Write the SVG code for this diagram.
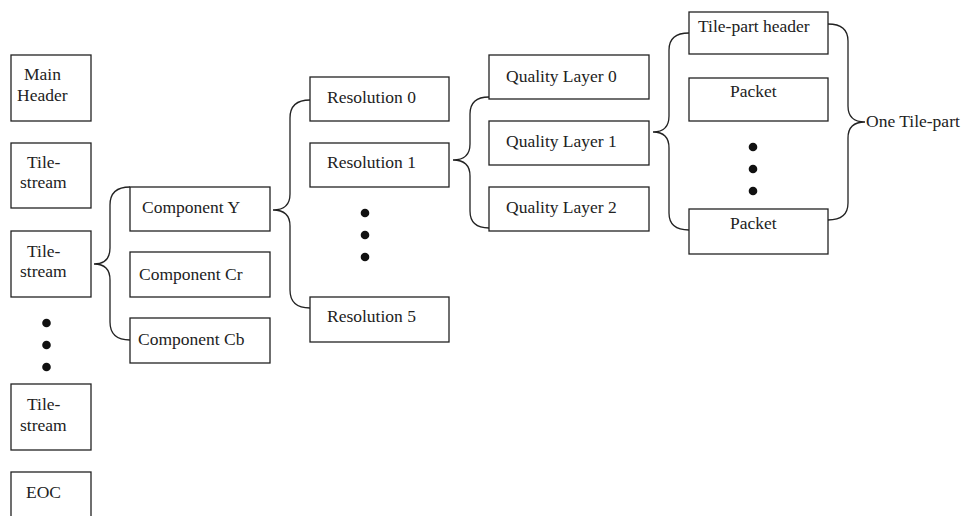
<svg xmlns="http://www.w3.org/2000/svg" width="961" height="516" viewBox="0 0 961 516">
<style>
rect{fill:#fff;stroke:#222;stroke-width:1.3}
text{font-family:"Liberation Serif","Times New Roman",serif;font-size:17.5px;fill:#222}
.br{fill:none;stroke:#222;stroke-width:1.3}
.dot{fill:#111}
</style>
<rect x="0" y="0" width="961" height="516" style="stroke:none"/>
<g id="main-header"><rect x="11" y="55" width="80" height="66"/><text x="24" y="80">Main</text><text x="17" y="101">Header</text></g>
<g id="tile-stream-1"><rect x="11" y="143" width="80" height="65"/><text x="27" y="168">Tile-</text><text x="20" y="188">stream</text></g>
<g id="tile-stream-2"><rect x="11" y="231" width="80" height="66"/><text x="27" y="257">Tile-</text><text x="20" y="277">stream</text></g>
<g id="dots-left"><circle class="dot" cx="46.5" cy="323" r="4.3"/><circle class="dot" cx="46.5" cy="345" r="4.3"/><circle class="dot" cx="46.5" cy="367" r="4.3"/></g>
<g id="tile-stream-3"><rect x="11" y="384" width="80" height="66"/><text x="27" y="410">Tile-</text><text x="20" y="431">stream</text></g>
<g id="eoc"><rect x="11" y="472" width="80" height="60"/><text x="26" y="498">EOC</text></g>

<g id="component-y"><rect x="130" y="187" width="140" height="44"/><text x="142" y="213">Component Y</text></g>
<g id="component-cr"><rect x="130" y="252" width="140" height="45"/><text x="139" y="280">Component Cr</text></g>
<g id="component-cb"><rect x="130" y="318" width="140" height="45"/><text x="138" y="345">Component Cb</text></g>

<g id="resolution-0"><rect x="310" y="77" width="139" height="44"/><text x="327" y="103">Resolution 0</text></g>
<g id="resolution-1"><rect x="310" y="143" width="139" height="44"/><text x="327" y="168">Resolution 1</text></g>
<g id="dots-res"><circle class="dot" cx="365" cy="213" r="4.3"/><circle class="dot" cx="365" cy="235" r="4.3"/><circle class="dot" cx="365" cy="257" r="4.3"/></g>
<g id="resolution-5"><rect x="310" y="297" width="139" height="45"/><text x="327" y="322">Resolution 5</text></g>

<g id="quality-layer-0"><rect x="489" y="55" width="160" height="44"/><text x="506" y="82">Quality Layer 0</text></g>
<g id="quality-layer-1"><rect x="489" y="121" width="160" height="44"/><text x="506" y="147">Quality Layer 1</text></g>
<g id="quality-layer-2"><rect x="489" y="187" width="160" height="44"/><text x="506" y="213">Quality Layer 2</text></g>

<g id="tile-part-header"><rect x="689" y="12" width="139" height="42"/><text x="698" y="32">Tile-part header</text></g>
<g id="packet-1"><rect x="689" y="78" width="139" height="43"/><text x="730" y="97">Packet</text></g>
<g id="dots-packet"><circle class="dot" cx="753" cy="147" r="4.3"/><circle class="dot" cx="753" cy="169" r="4.3"/><circle class="dot" cx="753" cy="191" r="4.3"/></g>
<g id="packet-2"><rect x="689" y="209" width="139" height="45"/><text x="730" y="229">Packet</text></g>
<g id="one-tile-part"><text x="866" y="127">One Tile-part</text></g>

<g id="connectors">
<path class="br" d="M130 187 Q110 187 110 205 L110 248 Q110 264 94 264 Q110 264 110 280 L110 322 Q110 340 130 340"/>
<path class="br" d="M310 100 Q290 100 290 118 L290 194 Q290 210 273 210 Q290 210 290 226 L290 290 Q290 308 310 308"/>
<path class="br" d="M489 97 Q470 97 470 114 L470 144 Q470 160 453 160 Q470 160 470 176 L470 211 Q470 228 489 228"/>
<path class="br" d="M689 33 Q669 33 669 50 L669 116 Q669 132 653 132 Q669 132 669 148 L669 213 Q669 230 689 230"/>
<path class="br" d="M828 24 Q848 24 848 41 L848 106 Q848 122 865 122 Q848 122 848 138 L848 203 Q848 220 828 220"/>
</g>
</svg>
